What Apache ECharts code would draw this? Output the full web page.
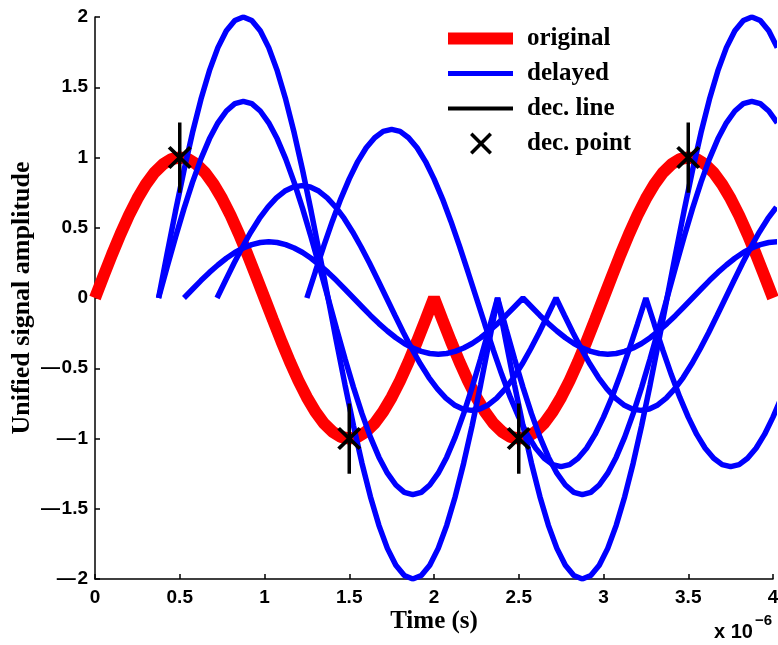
<!DOCTYPE html>
<html>
<head>
<meta charset="utf-8">
<script src="https://cdn.jsdelivr.net/npm/echarts@6/dist/echarts.min.js"></script>
<style>
html,body{margin:0;padding:0;background:#fff;}
#chart{width:778px;height:645px;}
</style>
</head>
<body>
<div id="chart"></div>
<script>
// ---------- data ----------
// relative time grid (units of 1e-6 s)
const tau = [0,0.05,0.1,0.15,0.2,0.25,0.3,0.35,0.4,0.45,0.5,0.55,0.6,0.65,0.7,0.75,0.8,0.85,0.9,0.95,
1,1.05,1.1,1.15,1.2,1.25,1.3,1.35,1.4,1.45,1.5,1.55,1.6,1.65,1.7,1.75,1.8,1.85,1.9,1.95,
2,2.05,2.1,2.15,2.2,2.25,2.3,2.35,2.4,2.45,2.5,2.55,2.6,2.65,2.7,2.75,2.8,2.85,2.9,2.95,
3,3.05,3.1,3.15,3.2,3.25,3.3,3.35,3.4,3.45,3.5,3.55,3.6,3.65,3.7,3.75,3.8,3.85,3.9,3.95,4];

// original signal
const originalY = [0,0.156,0.309,0.454,0.588,0.707,0.809,0.891,0.951,0.988,1,0.988,0.951,0.891,0.809,0.707,0.588,0.454,0.309,0.156,0,
-0.156,-0.309,-0.454,-0.588,-0.707,-0.809,-0.891,-0.951,-0.988,-1,-0.988,-0.951,-0.891,-0.809,-0.707,-0.588,-0.454,-0.309,-0.156,0,
-0.156,-0.309,-0.454,-0.588,-0.707,-0.809,-0.891,-0.951,-0.988,-1,-0.988,-0.951,-0.891,-0.809,-0.707,-0.588,-0.454,-0.309,-0.156,0,
0.156,0.309,0.454,0.588,0.707,0.809,0.891,0.951,0.988,1,0.988,0.951,0.891,0.809,0.707,0.588,0.454,0.309,0.156,0];

// delayed copies: start times
const delayStart = [0.375, 0.375, 0.525, 0.72, 1.25];

const delayedA = [0,0.313,0.618,0.908,1.176,1.414,1.618,1.782,1.902,1.975,2,1.975,1.902,1.782,1.618,1.414,1.176,0.908,0.618,0.313,0,
-0.313,-0.618,-0.908,-1.176,-1.414,-1.618,-1.782,-1.902,-1.975,-2,-1.975,-1.902,-1.782,-1.618,-1.414,-1.176,-0.908,-0.618,-0.313,0,
-0.313,-0.618,-0.908,-1.176,-1.414,-1.618,-1.782,-1.902,-1.975,-2,-1.975,-1.902,-1.782,-1.618,-1.414,-1.176,-0.908,-0.618,-0.313,0,
0.313,0.618,0.908,1.176,1.414,1.618,1.782,1.902,1.975,2,1.975,1.902,1.782];

const delayedB = [0,0.219,0.433,0.636,0.823,0.99,1.133,1.247,1.331,1.383,1.4,1.383,1.331,1.247,1.133,0.99,0.823,0.636,0.433,0.219,0,
-0.219,-0.433,-0.636,-0.823,-0.99,-1.133,-1.247,-1.331,-1.383,-1.4,-1.383,-1.331,-1.247,-1.133,-0.99,-0.823,-0.636,-0.433,-0.219,0,
-0.219,-0.433,-0.636,-0.823,-0.99,-1.133,-1.247,-1.331,-1.383,-1.4,-1.383,-1.331,-1.247,-1.133,-0.99,-0.823,-0.636,-0.433,-0.219,0,
0.219,0.433,0.636,0.823,0.99,1.133,1.247,1.331,1.383,1.4,1.383,1.331,1.247];

const delayedC = [0,0.062,0.124,0.182,0.235,0.283,0.324,0.356,0.38,0.395,0.4,0.395,0.38,0.356,0.324,0.283,0.235,0.182,0.124,0.062,0,
-0.062,-0.124,-0.182,-0.235,-0.283,-0.324,-0.356,-0.38,-0.395,-0.4,-0.395,-0.38,-0.356,-0.324,-0.283,-0.235,-0.182,-0.124,-0.062,0,
-0.062,-0.124,-0.182,-0.235,-0.283,-0.324,-0.356,-0.38,-0.395,-0.4,-0.395,-0.38,-0.356,-0.324,-0.283,-0.235,-0.182,-0.124,-0.062,0,
0.062,0.124,0.182,0.235,0.283,0.324,0.356,0.38,0.395,0.4];

const delayedD = [0,0.125,0.247,0.363,0.47,0.566,0.647,0.713,0.761,0.79,0.8,0.79,0.761,0.713,0.647,0.566,0.47,0.363,0.247,0.125,0,
-0.125,-0.247,-0.363,-0.47,-0.566,-0.647,-0.713,-0.761,-0.79,-0.8,-0.79,-0.761,-0.713,-0.647,-0.566,-0.47,-0.363,-0.247,-0.125,0,
-0.125,-0.247,-0.363,-0.47,-0.566,-0.647,-0.713,-0.761,-0.79,-0.8,-0.79,-0.761,-0.713,-0.647,-0.566,-0.47,-0.363,-0.247,-0.125,0,
0.125,0.247,0.363,0.47,0.566,0.647];

const delayedE = [0,0.187,0.371,0.545,0.706,0.848,0.971,1.069,1.141,1.186,1.2,1.186,1.141,1.069,0.971,0.848,0.706,0.545,0.371,0.187,0,
-0.187,-0.371,-0.545,-0.706,-0.848,-0.971,-1.069,-1.141,-1.186,-1.2,-1.186,-1.141,-1.069,-0.971,-0.848,-0.706,-0.545,-0.371,-0.187,0,
-0.187,-0.371,-0.545,-0.706,-0.848,-0.971,-1.069,-1.141,-1.186,-1.2,-1.186,-1.141,-1.069,-0.971,-0.848,-0.706];

const delayedCurves = [delayedA, delayedB, delayedC, delayedD, delayedE];

// decision points
const decX = [0.5, 1.5, 2.5, 3.5];
const decY = [1, -1, -1, 1];
const decHalfLen = 0.25;

// ticks
const xTicks = [0, 0.5, 1, 1.5, 2, 2.5, 3, 3.5, 4];
const xTickLabels = ['0', '0.5', '1', '1.5', '2', '2.5', '3', '3.5', '4'];
const yTicks = [-2, -1.5, -1, -0.5, 0, 0.5, 1, 1.5, 2];
const yTickLabels = ['\u2014\u200A2', '\u2014\u200A1.5', '\u2014\u200A1', '\u2014\u200A0.5', '0', '0.5', '1', '1.5', '2'];

// ---------- build ----------
const RED = '#ff0000', BLUE = '#0000ff', BLACK = '#000000';
const round = v => Math.round(v * 10000) / 10000;

function labelFor(ticks, labels) {
  return v => {
    for (let i = 0; i < ticks.length; i++) if (Math.abs(ticks[i] - v) < 1e-9) return labels[i];
    return '';
  };
}

const series = [];
series.push({
  name: 'original', type: 'line', symbol: 'none', color: RED,
  lineStyle: { color: RED, width: 12 },
  data: tau.map((t, k) => [t, originalY[k]]),
  z: 2
});
delayedCurves.forEach((ys, i) => {
  series.push({
    name: 'delayed', type: 'line', symbol: 'none', color: BLUE,
    lineStyle: { color: BLUE, width: 5.5 },
    data: ys.map((y, k) => [round(delayStart[i] + tau[k]), y]),
    z: 3
  });
});
decX.forEach((x, i) => {
  series.push({
    name: 'dec. line', type: 'line', symbol: 'none', color: BLACK,
    lineStyle: { color: BLACK, width: 3.5 },
    data: [[x, decY[i] - decHalfLen], [x, decY[i] + decHalfLen]],
    z: 4
  });
});
const xSym = 'path://M0,2.5 L2.5,0 L11,8.5 L19.5,0 L22,2.5 L13.5,11 L22,19.5 L19.5,22 L11,13.5 L2.5,22 L0,19.5 L8.5,11 Z';
series.push({
  name: 'dec. point', type: 'scatter', symbol: xSym, symbolSize: [24, 23], color: BLACK,
  itemStyle: { color: BLACK, opacity: 1 },
  data: decX.map((x, i) => [x, decY[i]]),
  z: 5
});

const chart = echarts.init(document.getElementById('chart'), null, { renderer: 'canvas' });
chart.setOption({
  animation: false,
  backgroundColor: '#ffffff',
  grid: { left: 95, right: 5, top: 17, bottom: 66, containLabel: false, outerBoundsMode: 'none' },
  legend: {
    left: 448, top: 26, orient: 'vertical', padding: 0,
    itemWidth: 74, itemHeight: 22, itemGap: 10,
    selectedMode: false,
    textStyle: { fontFamily: 'Liberation Serif', fontWeight: 'bold', fontSize: 25, color: '#000' },
    data: [
      { name: 'original', icon: 'path://M0,0 M74,22 M0,5 L65,5 L65,17 L0,17 Z', itemStyle: { color: RED, borderWidth: 0, opacity: 1 } },
      { name: 'delayed', icon: 'path://M0,0 M74,22 M0,8.5 L65,8.5 L65,13.5 L0,13.5 Z', itemStyle: { color: BLUE, borderWidth: 0, opacity: 1 } },
      { name: 'dec. line', icon: 'path://M0,0 M74,22 M0,9 L65,9 L65,13 L0,13 Z', itemStyle: { color: BLACK, borderWidth: 0, opacity: 1 } },
      { name: 'dec. point', icon: 'path://M0,11 M74,11 M22,2.5 L24.5,0 L33,8.5 L41.5,0 L44,2.5 L35.5,11 L44,19.5 L41.5,22 L33,13.5 L24.5,22 L22,19.5 L30.5,11 Z', itemStyle: { color: BLACK, borderWidth: 0, opacity: 1 } }
    ]
  },
  xAxis: {
    type: 'value', min: 0, max: 4, interval: 0.5,
    name: 'Time (s)', nameLocation: 'middle', nameGap: 30, nameMoveOverlap: false,
    nameTextStyle: { fontFamily: 'Liberation Serif', fontWeight: 'bold', fontSize: 25, color: '#000' },
    axisLine: { show: true, onZero: false, lineStyle: { color: '#000', width: 1.5 } },
    axisTick: { show: true, inside: true, length: 5, lineStyle: { color: '#000', width: 1.5 } },
    axisLabel: { formatter: labelFor(xTicks, xTickLabels), fontFamily: 'Liberation Sans', fontWeight: 'bold', fontSize: 19, color: '#000', margin: 9 },
    splitLine: { show: false }
  },
  yAxis: {
    type: 'value', min: -2, max: 2, interval: 0.5,
    name: 'Unified signal amplitude', nameLocation: 'middle', nameGap: 60, nameMoveOverlap: false,
    nameTextStyle: { fontFamily: 'Liberation Serif', fontWeight: 'bold', fontSize: 26, color: '#000' },
    axisLine: { show: true, onZero: false, lineStyle: { color: '#000', width: 1.5 } },
    axisTick: { show: true, inside: true, length: 5, lineStyle: { color: '#000', width: 1.5 } },
    axisLabel: { formatter: labelFor(yTicks, yTickLabels), fontFamily: 'Liberation Sans', fontWeight: 'bold', fontSize: 19, color: '#000', margin: 7 },
    splitLine: { show: false }
  },
  graphic: [
    { type: 'text', left: 714, top: 622, style: { text: 'x 10', font: 'bold 20px "Liberation Sans"', fill: '#000' } },
    { type: 'text', left: 755, top: 613, style: { text: '\u22126', font: 'bold 15px "Liberation Sans"', fill: '#000' } }
  ],
  series: series
});
</script>
</body>
</html>
